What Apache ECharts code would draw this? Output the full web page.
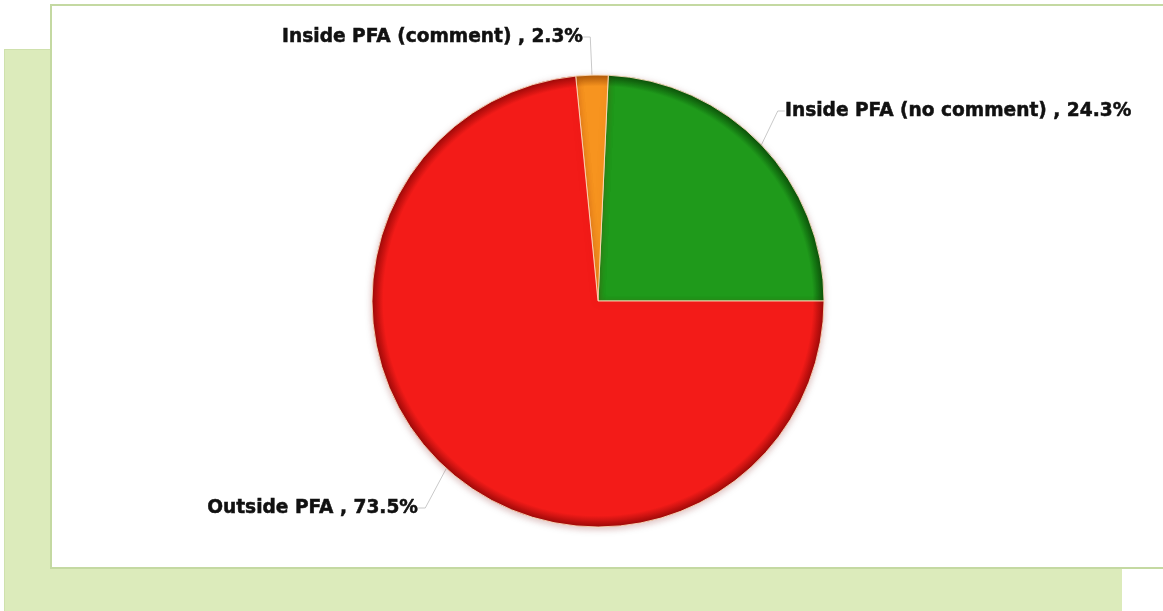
<!DOCTYPE html>
<html>
<head>
<meta charset="utf-8">
<title>PFA share</title>
<script src="https://cdn.jsdelivr.net/npm/echarts@6/dist/echarts.min.js"></script>
<style>
  html, body { margin: 0; padding: 0; width: 1163px; height: 611px; overflow: hidden; background: #ffffff; }
  .back-panel {
    position: absolute; left: 4px; top: 49px; width: 1117px; height: 600px;
    background: #dcebbb; border-top: 1px solid #cfe1ad; border-left: 1px solid #cfe1ad;
  }
  .front-panel {
    position: absolute; left: 50px; top: 4px; width: 1130px; height: 561px;
    background: #ffffff; border: 2px solid #c4d9a2;
  }
  #chart { position: absolute; left: 0; top: 0; width: 1163px; height: 611px; }
</style>
</head>
<body>
<div class="back-panel"></div>
<div class="front-panel"></div>
<div id="chart"></div>
<script>
// Share of records by PFA location (percent)
const categories = ['Inside PFA (no comment)', 'Inside PFA (comment)', 'Outside PFA'];
const shares = [24.3, 2.3, 73.5];

// Slice colours: flat fill and darker rim
const baseColors = ['#1f9a1b', '#f7941f', '#f31b18'];
const rimColors = ['#0a520a', '#b05a0a', '#9e0a09'];

// Pie geometry (pixels)
const pieCenter = [598, 301];
const pieRadius = 226;

// Where each label sits
const labelSpots = [
  { x: 785, y: 111, align: 'left' },
  { x: 583, y: 37, align: 'right' },
  { x: 418, y: 508, align: 'right' }
];

function rimGradient(i) {
  return {
    type: 'radial', global: true,
    x: pieCenter[0], y: pieCenter[1], r: pieRadius,
    colorStops: [
      { offset: 0, color: baseColors[i] },
      { offset: 0.9, color: baseColors[i] },
      { offset: 0.95, color: baseColors[i] },
      { offset: 1, color: rimColors[i] }
    ]
  };
}

const chart = echarts.init(document.getElementById('chart'), null, { renderer: 'canvas' });

chart.setOption({
  backgroundColor: 'transparent',
  animation: false,
  series: [{
    type: 'pie',
    center: pieCenter,
    radius: pieRadius,
    startAngle: 0,
    clockwise: false,
    avoidLabelOverlap: false,
    silent: true,
    data: categories.map((name, i) => ({
      name: name,
      value: shares[i],
      itemStyle: { color: rimGradient(i) }
    })),
    itemStyle: {
      borderColor: 'rgba(255,225,190,0.85)',
      borderWidth: 1,
      shadowBlur: 7,
      shadowColor: 'rgba(120,0,0,0.25)',
      shadowOffsetY: 2
    },
    label: {
      show: true,
      position: 'outside',
      formatter: '{b} , {c}%',
      color: '#111111',
      fontFamily: 'DejaVu Sans',
      fontWeight: 'bold',
      fontSize: 18.6,
      textBorderColor: '#111111',
      textBorderWidth: 0.5,
      distanceToLabelLine: 3
    },
    labelLine: {
      show: true,
      length: 30,
      length2: 7,
      smooth: false,
      lineStyle: { color: '#c9c9c9', width: 1 }
    },
    labelLayout: function (params) {
      const spot = labelSpots[params.dataIndex];
      return { x: spot.x, y: spot.y, align: spot.align, verticalAlign: 'middle' };
    }
  }]
});
</script>
</body>
</html>
